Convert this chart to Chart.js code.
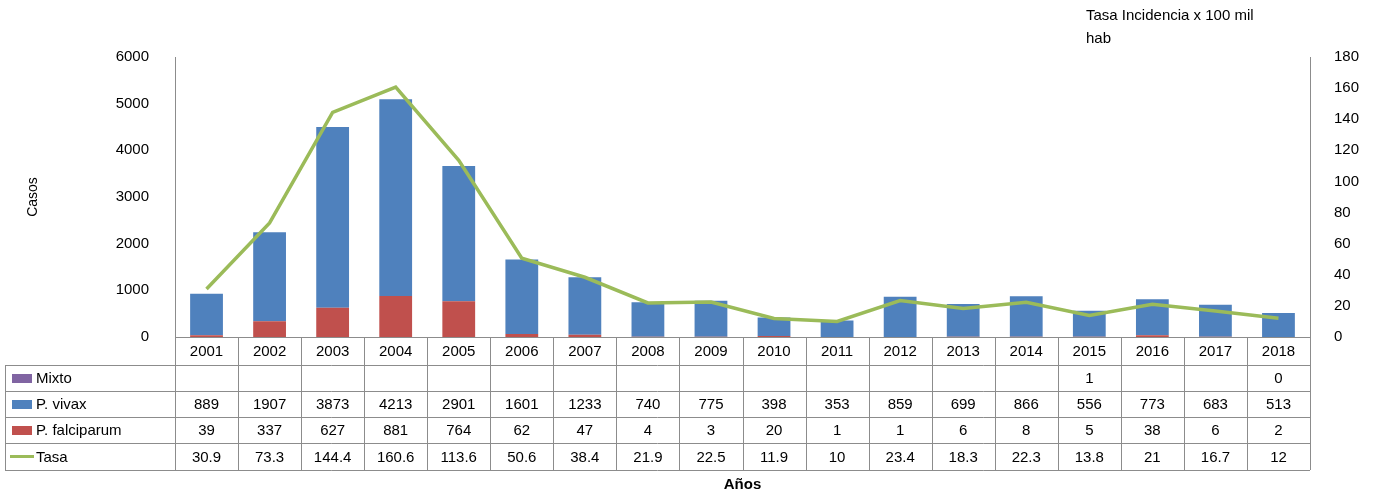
<!DOCTYPE html>
<html>
<head>
<meta charset="utf-8">
<script src="https://cdn.jsdelivr.net/npm/chart.js@4"></script>
<style>
  body { margin: 0; background: #fff; }
</style>
</head>
<body>
<canvas id="c" width="1387" height="495"></canvas>
<script>
// DATA
var years = ['2001','2002','2003','2004','2005','2006','2007','2008','2009','2010','2011','2012','2013','2014','2015','2016','2017','2018'];
var mixto = [null,null,null,null,null,null,null,null,null,null,null,null,null,null,1,null,null,0];
var vivax = [889,1907,3873,4213,2901,1601,1233,740,775,398,353,859,699,866,556,773,683,513];
var falciparum = [39,337,627,881,764,62,47,4,3,20,1,1,6,8,5,38,6,2];
var tasa = [30.9,73.3,144.4,160.6,113.6,50.6,38.4,21.9,22.5,11.9,10,23.4,18.3,22.3,13.8,21,16.7,12];

var FONT = '"Liberation Sans", Arial, sans-serif';
var BLUE = '#4F81BD', RED = '#C0504D', PURPLE = '#8064A2', GREEN = '#9BBB59';

// draws the data table under the plot
var tablePlugin = {
    id: 'table',
    afterDraw: function (chart) {
        var ctx = chart.ctx;
        var x = chart.scales.x;
        var area = chart.chartArea;
        var w = (area.right - area.left) / years.length;
        var rows = [337, 365, 391, 417, 443, 470];
        var left = 5;
        ctx.save();
        ctx.strokeStyle = '#8c8c8c';
        ctx.lineWidth = 1;
        for (var r = 0; r < rows.length; r++) {
            ctx.beginPath();
            ctx.moveTo(r === 0 ? area.left : left, rows[r] + 0.5);
            ctx.lineTo(area.right, rows[r] + 0.5);
            ctx.stroke();
        }
        for (var i = 0; i <= years.length; i++) {
            var xx = Math.round(area.left + i * w) + 0.5;
            ctx.beginPath();
            ctx.moveTo(xx, rows[0]);
            ctx.lineTo(xx, rows[5]);
            ctx.stroke();
        }
        ctx.beginPath();
        ctx.moveTo(left + 0.5, rows[1]);
        ctx.lineTo(left + 0.5, rows[5]);
        ctx.stroke();

        ctx.fillStyle = '#000';
        ctx.font = '15px ' + FONT;
        ctx.textAlign = 'center';
        ctx.textBaseline = 'middle';
        var data = [years, mixto, vivax, falciparum, tasa];
        for (var r = 0; r < data.length; r++) {
            var cy = (rows[r] + rows[r + 1]) / 2 + 1;
            for (var i = 0; i < years.length; i++) {
                var v = data[r][i];
                if (v === null || v === undefined) continue;
                ctx.fillText(String(v), x.getPixelForValue(i), cy);
            }
        }
        var labels = ['Mixto', 'P. vivax', 'P. falciparum', 'Tasa'];
        var colors = [PURPLE, BLUE, RED, GREEN];
        ctx.textAlign = 'left';
        for (var r = 0; r < 4; r++) {
            var cy = (rows[r + 1] + rows[r + 2]) / 2;
            ctx.fillStyle = colors[r];
            if (r < 3) {
                ctx.fillRect(12, cy - 4, 20, 9);
            } else {
                ctx.fillRect(10, cy - 1.5, 24, 3);
            }
            ctx.fillStyle = '#000';
            ctx.fillText(labels[r], 36, cy + 1);
        }
        ctx.font = 'bold 15px ' + FONT;
        ctx.textAlign = 'center';
        ctx.fillText('Años', (area.left + area.right) / 2, 485);
        ctx.font = '15px ' + FONT;
        ctx.textAlign = 'left';
        ctx.fillText('Tasa Incidencia x 100 mil', 1086, 16);
        ctx.fillText('hab', 1086, 39);
        ctx.save();
        ctx.translate(33, 197);
        ctx.rotate(-Math.PI / 2);
        ctx.textAlign = 'center';
        ctx.font = '14px ' + FONT;
        ctx.fillText('Casos', 0, 0);
        ctx.restore();
        ctx.restore();
    }
};

var barOpts = { stack: 's', barPercentage: 0.52, categoryPercentage: 1, yAxisID: 'y', order: 1 };

new Chart(document.getElementById('c'), {
    data: {
        labels: years,
        datasets: [{
            type: 'line',
            label: 'Tasa',
            data: tasa,
            borderColor: GREEN,
            borderWidth: 3.5,
            pointRadius: 0,
            tension: 0,
            yAxisID: 'y1',
            order: 0
        },
        Object.assign({ type: 'bar', label: 'P. falciparum', data: falciparum, backgroundColor: RED }, barOpts),
        Object.assign({ type: 'bar', label: 'P. vivax', data: vivax, backgroundColor: BLUE }, barOpts),
        Object.assign({ type: 'bar', label: 'Mixto', data: mixto, backgroundColor: PURPLE }, barOpts)]
    },
    options: {
        responsive: false,
        animation: false,
        layout: { padding: { top: 57, bottom: 158, left: 0, right: 0 } },
        plugins: { legend: { display: false }, tooltip: { enabled: false } },
        scales: {
            x: {
                stacked: true,
                grid: { display: false, drawTicks: false },
                border: { color: '#8c8c8c' },
                ticks: { display: false }
            },
            y: {
                stacked: true,
                min: 0, max: 6000,
                ticks: { stepSize: 1000, color: '#000', font: { size: 15, family: FONT }, padding: 18,
                         callback: function (v) { return String(v); } },
                grid: { display: false },
                border: { color: '#8c8c8c' },
                afterFit: function (s) { s.width = 175; }
            },
            y1: {
                position: 'right',
                min: 0, max: 180,
                ticks: { stepSize: 20, color: '#000', font: { size: 15, family: FONT }, padding: 16 },
                grid: { display: false },
                border: { color: '#8c8c8c' },
                afterFit: function (s) { s.width = 77; }
            }
        }
    },
    plugins: [tablePlugin]
});
</script>
</body>
</html>
